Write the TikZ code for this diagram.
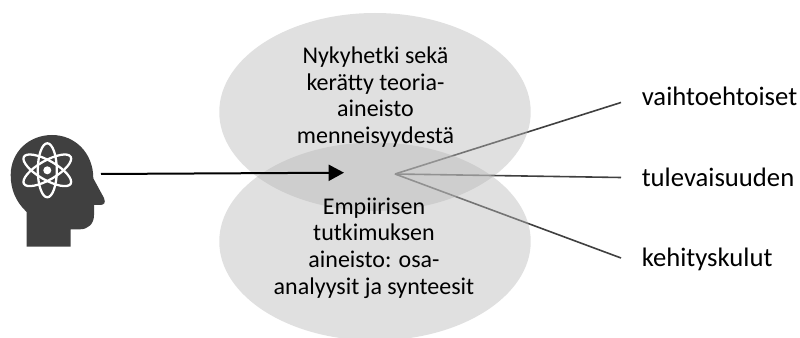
\documentclass[tikz,border=0pt]{standalone}
\usepackage{fontspec}
\setmainfont{Carlito}
\usepackage{xcolor}
\usetikzlibrary{shapes.geometric,arrows.meta,positioning}
\definecolor{cloudgray}{RGB}{184,184,184}
\definecolor{iconcolor}{RGB}{64,64,64}

\begin{document}
\begin{tikzpicture}[
    x=0.75pt, y=-0.75pt,
    cloud/.style={ellipse, fill=cloudgray, fill opacity=0.44, inner sep=0pt, minimum width=233.6pt, minimum height=148.5pt},
    body/.style={align=center, font=\fontsize{18}{20}\selectfont, inner sep=0pt},
    outcome/.style={font=\fontsize{20}{24}\selectfont, inner sep=0pt, right=15.4pt of #1},
    spoke/.style={iconcolor, line width=1.2pt},
    arrow/.style={-{Triangle[length=11.5pt,width=12pt]}, black, line width=1.5pt},
    atomring/.style={draw=white, line width=1.7pt}
]
\useasboundingbox (0,0) rectangle (800,338);

% Connector ends
\coordinate (focus) at (395,174);
\coordinate (endtop) at (621,102.5);
\coordinate (endmid) at (621,177.5);
\coordinate (endlow) at (621,258);
\coordinate (gazestart) at (101,174);
\coordinate (gazeend) at (344,172.7);

% Spokes go under the ellipses
\draw[spoke] (focus) -- (endtop);
\draw[spoke] (focus) -- (endmid);
\draw[spoke] (focus) -- (endlow);

% Ellipses
\node[cloud] (past) at (375,112) {};
\node[cloud] (empirical) at (375,241.5) {};

% Texts
\node[body] (pasttext) at (375.5,97) {Nykyhetki sekä\\kerätty teoria-\\aineisto\\menneisyydestä};
\node[body] (empiricaltext) at (374,248) {Empiirisen\\tutkimuksen\\aineisto: osa-\\analyysit ja synteesit};
\node[outcome=endtop, anchor=base west, yshift=-1.9pt] (alternatives) {vaihtoehtoiset};
\node[outcome=endmid, anchor=base west, yshift=-6.4pt] (futures) {tulevaisuuden};
\node[outcome=endlow, anchor=base west, yshift=-6.5pt] (costs) {kehityskulut};

% Head icon
\fill[iconcolor] (26.7,246.7) -- (26.7,212)
    .. controls (16,202) and (10.7,190) .. (10.7,175)
    .. controls (10.7,152) and (29,135) .. (52,135)
    .. controls (75,135) and (93.3,153) .. (93.3,178.3)
    -- (104,198)
    .. controls (106,203) and (104,205) .. (100,205)
    -- (94,205) -- (94,215)
    .. controls (94,224) and (88,229.3) .. (80,229.3)
    -- (70.7,229.3) -- (70.7,246.7) -- cycle;
\coordinate (atom) at (47.3,170.3);
\foreach \angle in {0,60,120}
    \draw[atomring, rotate around={\angle:(atom)}] (atom) ellipse (9.5 and 27);
\fill[white] (atom) circle (4);

\draw[arrow] (gazestart) -- (gazeend);

\end{tikzpicture}
\end{document}
